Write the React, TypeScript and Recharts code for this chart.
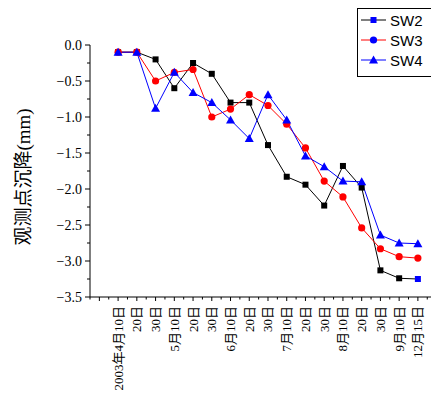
import React from 'react';
import { LineChart, Line, XAxis, YAxis } from 'recharts';

// dates of the survey (category axis)
const dates = [
  '2003年4月10日', '20日', '30日', '5月10日', '20日', '30日', '6月10日', '20日', '30日',
  '7月10日', '20日', '30日', '8月10日', '20日', '30日', '9月10日', '12月15日',
];

// settlement values (mm)
const sw2 = [-0.1, -0.1, -0.2, -0.6, -0.25, -0.4, -0.8, -0.8, -1.39, -1.83, -1.94, -2.23, -1.68, -1.98, -3.13, -3.24, -3.25];
const sw3 = [-0.1, -0.1, -0.5, -0.38, -0.34, -1.0, -0.89, -0.69, -0.84, -1.1, -1.43, -1.89, -2.11, -2.54, -2.83, -2.94, -2.96];
const sw4 = [-0.1, -0.1, -0.88, -0.38, -0.66, -0.8, -1.04, -1.3, -0.69, -1.04, -1.54, -1.69, -1.89, -1.9, -2.64, -2.75, -2.76];

const yTicks = [0, -0.25, -0.5, -0.75, -1, -1.25, -1.5, -1.75, -2, -2.25, -2.5, -2.75, -3, -3.25, -3.5];
const xTicks = [-1.5, -1, -0.5, 0, 0.5, 1, 1.5, 2, 2.5, 3, 3.5, 4, 4.5, 5, 5.5, 6, 6.5, 7, 7.5, 8, 8.5, 9, 9.5, 10, 10.5, 11, 11.5, 12, 12.5, 13, 13.5, 14, 14.5, 15, 15.5, 16, 16.5];

const data = dates.map((d, i) => ({ x: i, date: d, SW2: sw2[i], SW3: sw3[i], SW4: sw4[i] }));

const serif = "'Liberation Serif', 'Noto Sans CJK SC', serif";

const XTick = (props: any) => {
  const { x, y, payload } = props;
  const v = payload.value;
  const whole = Number.isInteger(v);
  const isCat = whole && v >= 0 && v < dates.length;
  return (
    <g>
      <line x1={x} x2={x} y1={y} y2={y + (whole ? 4 : 2.5)} stroke="#000" />
      {isCat && (
        <text
          x={0}
          y={0}
          transform={`translate(${x + 4.5},${y + 9}) rotate(-90)`}
          textAnchor="end"
          fontSize={13}
          fontFamily={serif}
          fill="#000"
        >
          {dates[v]}
        </text>
      )}
    </g>
  );
};

const YTick = (props: any) => {
  const { x, y, payload } = props;
  const v = payload.value;
  const major = Math.abs(Math.round(v * 2) - v * 2) < 1e-6;
  return (
    <g>
      <line x1={x - (major ? 5 : 3)} x2={x} y1={y} y2={y} stroke="#000" />
      {major && (
        <text x={x - 8} y={y} dy={5} textAnchor="end" fontSize={14} fontFamily={serif} fill="#000">
          {v === 0 ? '0.0' : '−' + Math.abs(v).toFixed(1)}
        </text>
      )}
    </g>
  );
};

const squareDot = (props: any) => {
  const { cx, cy, index } = props;
  const c = index === dates.length - 1 ? '#0000ff' : '#000';
  return <rect key={`sq-${index}`} x={cx - 3} y={cy - 3} width={6} height={6} fill={c} />;
};

const circleDot = (props: any) => {
  const { cx, cy, index } = props;
  return <circle key={`ci-${index}`} cx={cx} cy={cy} r={3.6} fill="#ff0000" />;
};

const triDot = (props: any) => {
  const { cx, cy, index } = props;
  return (
    <path
      key={`tr-${index}`}
      d={`M${cx},${cy - 4.5}L${cx + 4.5},${cy + 3.5}L${cx - 4.5},${cy + 3.5}Z`}
      fill="#0000ff"
    />
  );
};

const legendItems = [
  { name: 'SW2', line: '#000', shape: 'square' },
  { name: 'SW3', line: '#ff0000', shape: 'circle' },
  { name: 'SW4', line: '#0000ff', shape: 'tri' },
];

export default function App() {
  return (
    <div style={{ position: 'absolute', left: 0, top: 0, width: 431, height: 400, background: '#fff' }}>
      <LineChart width={431} height={400} data={data} margin={{ top: 45, right: 0, bottom: 0, left: 0 }}>
        <XAxis
          type="number"
          dataKey="x"
          domain={[-1.5, 16.7]}
          ticks={xTicks}
          interval={0}
          allowDataOverflow
          height={103}
          tickSize={0}
          tickMargin={0}
          tickLine={false}
          axisLine={{ stroke: '#000' }}
          tick={<XTick />}
        />
        <YAxis
          type="number"
          domain={[-3.5, 0]}
          ticks={yTicks}
          interval={0}
          width={90}
          tickSize={0}
          tickMargin={0}
          tickLine={false}
          axisLine={{ stroke: '#000' }}
          tick={<YTick />}
        />
        <Line dataKey="SW2" stroke="#000" strokeWidth={1} dot={squareDot} isAnimationActive={false} />
        <Line dataKey="SW3" stroke="#ff0000" strokeWidth={1} dot={circleDot} isAnimationActive={false} />
        <Line dataKey="SW4" stroke="#0000ff" strokeWidth={1} dot={triDot} isAnimationActive={false} />
      </LineChart>
      <svg width={431} height={400} style={{ position: 'absolute', left: 0, top: 0, pointerEvents: 'none' }}>
        <text
          transform="translate(30,177) rotate(-90)"
          textAnchor="middle"
          fontSize={19}
          fontFamily={serif}
          fill="#000"
        >
          观测点沉降(mm)
        </text>
        <rect x={357.5} y={8.5} width={80} height={68} fill="#fff" stroke="#000" />
        {legendItems.map((it, i) => {
          const cy = 20 + i * 20;
          return (
            <g key={it.name}>
              <line x1={361} x2={386} y1={cy} y2={cy} stroke={it.line} />
              {it.shape === 'square' && <rect x={370.5} y={cy - 3} width={6} height={6} fill="#0000ff" />}
              {it.shape === 'circle' && <circle cx={373.5} cy={cy} r={3.6} fill="#0000ff" />}
              {it.shape === 'tri' && (
                <path d={`M373.5,${cy - 4.5}L378,${cy + 3.5}L369,${cy + 3.5}Z`} fill="#0000ff" />
              )}
              <text x={390} y={cy + 5.5} fontSize={15} fontFamily="'Liberation Sans', Arial, sans-serif" fill="#000">
                {it.name}
              </text>
            </g>
          );
        })}
      </svg>
    </div>
  );
}
